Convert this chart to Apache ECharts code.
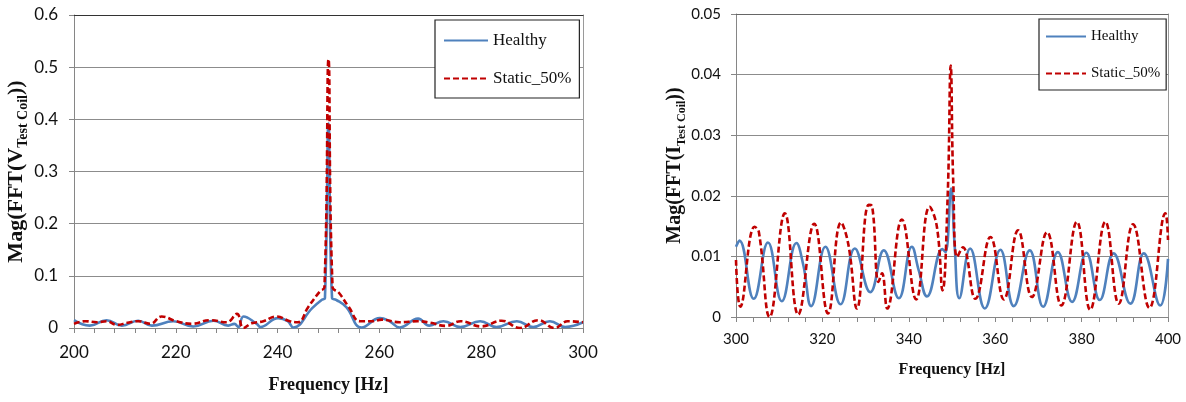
<!DOCTYPE html>
<html>
<head>
<meta charset="utf-8">
<script src="https://cdn.jsdelivr.net/npm/echarts@6/dist/echarts.min.js"></script>
<style>html,body{margin:0;padding:0;background:#fff}#c{width:1186px;height:402px}</style>
</head>
<body>
<div id="c"></div>
<script>
// Left chart: Mag(FFT(V)) 200-300 Hz  [Hz, value]
const leftHealthy = [
 [200,0.015],[203.1,0.0045],[206.4,0.015],[209.4,0.0045],[212.6,0.014],[215.3,0.0045],
 [219.5,0.013],[223.4,0.003],[227.4,0.014],[230.3,0.0045],[231.5,0.008],[232.3,0.002],
 [233.3,0.022],[235.9,0.008],[236.6,0.002],[240.1,0.019],[242,0.013],[243.1,0.001],
 [246.8,0.038],[248.7,0.054],[249.3,0.057],[250.0,0.392],[250.7,0.057],[251.5,0.054],
 [253.5,0.040],[256.5,0.001],[260.1,0.019],[262,0.013],[264,0.001],[267.6,0.018],
 [269.8,0.0045],[272.6,0.013],[275.9,0.002],[279.8,0.013],[283,0.002],[287,0.013],
 [290.2,0.002],[293.5,0.013],[296.5,0.002],[300,0.011]
];
const leftStatic = [
 [200,0.008],[202.2,0.013],[204.5,0.011],[206.4,0.013],[208.5,0.006],[210.5,0.010],
 [212.6,0.013],[215,0.008],[217.2,0.022],[220.1,0.013],[223.1,0.008],[226.7,0.015],
 [230,0.011],[232,0.027],[233.3,0.0],[234.9,0.009],[237.2,0.013],[239.8,0.022],
 [242.4,0.013],[244,0.011],[246,0.040],[248.3,0.070],[249.2,0.078],[250.0,0.515],
 [250.8,0.078],[252,0.068],[254,0.040],[256.2,0.013],[258.5,0.013],[260.5,0.016],
 [264,0.011],[267.5,0.013],[270,0.010],[273,0.004],[276,0.013],[280,0.003],[284,0.014],
 [287.6,0.0],[291.2,0.015],[294.4,0.0],[297,0.013],[300,0.011]
];
// Right chart: Mag(FFT(I)) 300-400 Hz
const rightHealthy = [
 [300,0.0116],[300.8,0.0126],[304.1,0.003],[307.4,0.0123],[310.6,0.0026],[314,0.0122],
 [315.6,0.0085],[317.4,0.0018],[320.7,0.0116],[324.2,0.0021],[327.5,0.0113],[331.1,0.0041],
 [334.2,0.011],[337.7,0.0031],[340.7,0.0116],[342.3,0.0077],[344.2,0.0034],[347.8,0.0112],
 [348.5,0.0107],[349.8,0.0212],[350.6,0.012],[351.7,0.0031],[354.2,0.0113],[357.6,0.0014],
 [361.2,0.0111],[364.3,0.0018],[368,0.011],[371.1,0.0017],[374.5,0.0107],[377.8,0.0025],
 [381.1,0.0106],[384.2,0.0028],[387.4,0.0105],[391.3,0.0022],[394.4,0.0105],[398.2,0.0019],
 [400,0.0096]
];
const rightStatic = [
 [300,0.0094],[301,0.0017],[304.3,0.0149],[305.3,0.014],[307.8,0.0],[311.3,0.0171],
 [314.4,0.0004],[318.1,0.0154],[321.3,0.0006],[324.3,0.0156],[326,0.012],[328,0.0014],
 [330.7,0.0185],[331.5,0.0183],[333,0.0058],[333.8,0.0072],[335,0.0014],[338.4,0.0161],
 [341.7,0.0029],[344.8,0.0182],[346.5,0.0149],[347.8,0.0044],[349,0.020],[349.7,0.0415],
 [350.3,0.022],[351.2,0.0099],[352.5,0.0115],[355.4,0.003],[358.9,0.0132],[362,0.0029],
 [365.3,0.0143],[368.5,0.0033],[372,0.014],[375.3,0.0019],[378.9,0.0157],[382,0.0012],
 [385.5,0.0157],[388.6,0.0022],[391.9,0.0153],[395.7,0.0015],[399.4,0.0171],[400,0.0127]
];
const seriesNames = ['Healthy','Static_50%'];
const leftYTicks = ['0','0.1','0.2','0.3','0.4','0.5','0.6'];
const rightYTicks = ['0','0.01','0.02','0.03','0.04','0.05'];

const BLUE = '#4F81BD', RED = '#C00000';
const GRIDC = '#8c8c8c', AXC = '#868686';
const serif = 'Liberation Serif';
const sans = 'Lato';

function xAx(grid, min, max, fs, margin, gap, nfs) {
  return {
    type:'value', gridIndex:grid, min:min, max:max, interval:20,
    axisLine:{show:true, onZero:false, lineStyle:{color:AXC, width:1}},
    axisTick:{show:true, length:5, lineStyle:{color:AXC}},
    minorTick:{show:true, splitNumber:5, length:5, lineStyle:{color:AXC}},
    splitLine:{show:false},
    axisLabel:{fontFamily:sans, fontSize:fs, color:'#111', margin:margin},
    name:'Frequency [Hz]', nameLocation:'middle', nameGap:gap,
    nameTextStyle:{fontFamily:serif, fontWeight:'bold', fontSize:nfs, color:'#111'}
  };
}
function topAx(grid, min, max, col) {
  return {type:'value', gridIndex:grid, position:'top', min:min, max:max,
    axisLine:{show:true, onZero:false, lineStyle:{color:col, width:1.2}},
    axisTick:{show:false}, axisLabel:{show:false}, splitLine:{show:false}};
}
function yAx(grid, max, interval, labels, fs, margin, nameParts, gap, nfs, sfs) {
  return {
    type:'value', gridIndex:grid, min:0, max:max, interval:interval,
    axisLine:{show:true, lineStyle:{color:AXC, width:1}},
    axisTick:{show:true, length:5, lineStyle:{color:AXC}},
    splitLine:{show:true, lineStyle:{color:GRIDC, width:1}},
    axisLabel:{fontFamily:sans, fontSize:fs, color:'#111', margin:margin,
      formatter:function(v){ return labels[Math.round(v/interval)]; }},
    name:'{m|'+nameParts[0]+'}{s|'+nameParts[1]+'}{m|'+nameParts[2]+'}',
    nameLocation:'middle', nameGap:gap, nameRotate:90,
    nameTextStyle:{rich:{
      m:{fontFamily:serif, fontWeight:'bold', fontSize:nfs, color:'#111', lineHeight:nfs+4, verticalAlign:'bottom'},
      s:{fontFamily:serif, fontWeight:'bold', fontSize:sfs, color:'#111', lineHeight:sfs+2, verticalAlign:'bottom', padding:[0,0,-3,0]}
    }}
  };
}
function rightAx(grid, max, col) {
  return {type:'value', gridIndex:grid, position:'right', min:0, max:max,
    axisLine:{show:true, lineStyle:{color:col, width:1}},
    axisTick:{show:false}, axisLabel:{show:false}, splitLine:{show:false}};
}
function ser(name, data, xi, yi, color, dashed) {
  return {name:name, type:'line', xAxisIndex:xi, yAxisIndex:yi, data:data,
    smooth:0.45, symbol:'none', clip:true,
    lineStyle:{color:color, width:2.6, type: dashed ? [6,3] : 'solid'},
    itemStyle:{color:color}};
}
const legendItemStyle = {color:'rgba(0,0,0,0)', borderWidth:0, opacity:0};

const chart = echarts.init(document.getElementById('c'), null, {renderer:'canvas'});
chart.setOption({
  animation:false,
  backgroundColor:'#fff',
  grid:[
    {left:74, right:603, top:15, bottom:74},
    {left:736, right:18, top:14, bottom:85}
  ],
  xAxis:[
    xAx(0,200,300,17,16,48,18),
    xAx(1,300,400,15,15,45,16),
    topAx(0,200,300,'#333'),
    topAx(1,300,400,'#666')
  ],
  yAxis:[
    yAx(0,0.6,0.1,leftYTicks,17,16,['Mag(FFT(V','Test Coil','))'],45,22,14),
    yAx(1,0.05,0.01,rightYTicks,15,15,['Mag(FFT(I','Test Coil','))'],44,20,12),
    rightAx(0,0.6,'#9a9a9a'),
    rightAx(1,0.05,'#9a9a9a')
  ],
  legend:[
    {data:seriesNames, orient:'vertical', left:435, top:20, itemWidth:44, itemHeight:14, itemGap:21,
     padding:[12,8,11,8], borderColor:'#222', borderWidth:1.2, backgroundColor:'#fff',
     itemStyle:legendItemStyle,
     textStyle:{fontFamily:serif, fontSize:17, color:'#111'}},
    {data:seriesNames, orient:'vertical', left:1039, top:19, itemWidth:40, itemHeight:14, itemGap:22,
     padding:[10,6,9,6], borderColor:'#222', borderWidth:1.2, backgroundColor:'#fff',
     itemStyle:legendItemStyle,
     textStyle:{fontFamily:serif, fontSize:15, color:'#111'}}
  ],
  series:[
    ser('Healthy', leftHealthy, 0, 0, BLUE, false),
    ser('Static_50%', leftStatic, 0, 0, RED, true),
    ser('Healthy', rightHealthy, 1, 1, BLUE, false),
    ser('Static_50%', rightStatic, 1, 1, RED, true)
  ]
});
</script>
</body>
</html>
